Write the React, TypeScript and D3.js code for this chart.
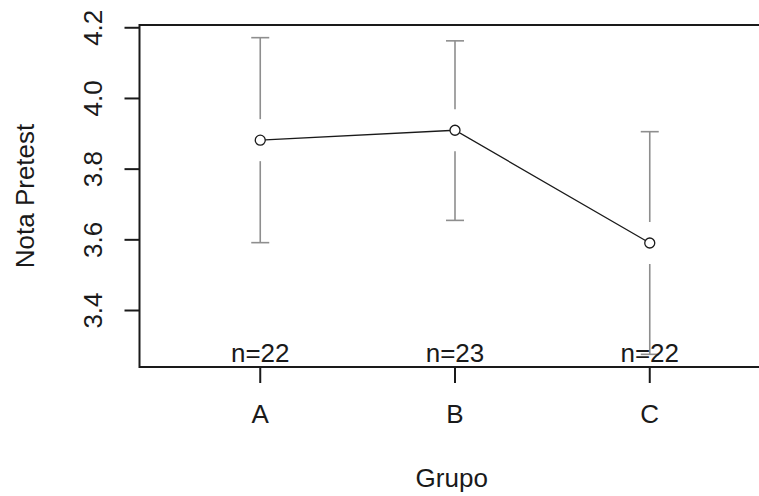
import React from "react";
import * as d3 from "d3";

const groups = ["A", "B", "C"];
const means = [3.882, 3.910, 3.591];
const ciLower = [3.592, 3.655, 3.276];
const ciUpper = [4.172, 4.163, 3.906];
const counts = [22, 23, 22];
const yTicks = [3.4, 3.6, 3.8, 4.0, 4.2];
const xTitle = "Grupo";
const yTitle = "Nota Pretest";

const W = 759;
const H = 496;
const FONT = "'Liberation Sans', Arial, sans-serif";
const FS = 26;

export default function App() {
  const left = 139.5;
  const top = 25;
  const bottom = 367;
  const right = 770.5;

  const x = d3.scaleLinear().domain([0.38, 3.62]).range([left, right]);
  const yLo = d3.min(ciLower)!;
  const yHi = d3.max(ciUpper)!;
  const pad = (yHi - yLo) * 0.04;
  const y = d3.scaleLinear().domain([yLo - pad, yHi + pad]).range([bottom, top]);

  const line = d3
    .line<number>()
    .x((_, i) => x(i + 1))
    .y((d) => y(d));

  const gap = 21;
  const cap = 9;
  const barColor = "#8e8e8e";
  const ink = "#1a1a1a";

  return (
    <div style={{ position: "fixed", left: 0, top: 0 }}>
      <svg width={W} height={H} style={{ display: "block", background: "#fff" }}>
        <rect x={0} y={0} width={W} height={H} fill="#fff" />
        {/* error bars */}
        {groups.map((g, i) => {
          const cx = x(i + 1);
          const my = y(means[i]);
          const uy = y(ciUpper[i]);
          const ly = y(ciLower[i]);
          return (
            <g key={"eb" + g} stroke={barColor} strokeWidth={1.6} fill="none">
              <line x1={cx} x2={cx} y1={uy} y2={my - gap} />
              <line x1={cx} x2={cx} y1={my + gap} y2={ly} />
              <line x1={cx - cap} x2={cx + cap} y1={uy} y2={uy} />
              <line x1={cx - cap} x2={cx + cap} y1={ly} y2={ly} />
            </g>
          );
        })}
        {/* mean line */}
        <path d={line(means) || ""} fill="none" stroke={ink} strokeWidth={1.3} />
        {means.map((m, i) => (
          <circle key={"pt" + i} cx={x(i + 1)} cy={y(m)} r={5} fill="#fff" stroke={ink} strokeWidth={1.3} />
        ))}
        {/* n labels */}
        {counts.map((n, i) => (
          <text
            key={"n" + i}
            x={x(i + 1)}
            y={y.range()[0] - 5}
            textAnchor="middle"
            fontFamily={FONT}
            fontSize={FS}
            fill={ink}
          >
            {"n=" + n}
          </text>
        ))}
        {/* box */}
        <rect x={left} y={top} width={right - left} height={bottom - top} fill="none" stroke={ink} strokeWidth={2} />
        {/* x axis */}
        {groups.map((g, i) => (
          <g key={"xt" + g}>
            <line x1={x(i + 1)} x2={x(i + 1)} y1={bottom} y2={bottom + 16} stroke={ink} strokeWidth={2} />
            <text x={x(i + 1)} y={423} textAnchor="middle" fontFamily={FONT} fontSize={FS} fill={ink}>
              {g}
            </text>
          </g>
        ))}
        {/* y axis */}
        {yTicks.map((t) => (
          <g key={"yt" + t}>
            <line x1={left - 15} x2={left} y1={y(t)} y2={y(t)} stroke={ink} strokeWidth={2} />
            <text
              transform={`translate(102,${y(t)}) rotate(-90)`}
              textAnchor="middle"
              fontFamily={FONT}
              fontSize={FS}
              fill={ink}
            >
              {d3.format(".1f")(t)}
            </text>
          </g>
        ))}
        <text x={(left + 770) / 2 - 3} y={487} textAnchor="middle" fontFamily={FONT} fontSize={FS} fill={ink}>
          {xTitle}
        </text>
        <text
          transform={`translate(34,${(top + bottom) / 2}) rotate(-90)`}
          textAnchor="middle"
          fontFamily={FONT}
          fontSize={FS}
          fill={ink}
        >
          {yTitle}
        </text>
      </svg>
    </div>
  );
}
